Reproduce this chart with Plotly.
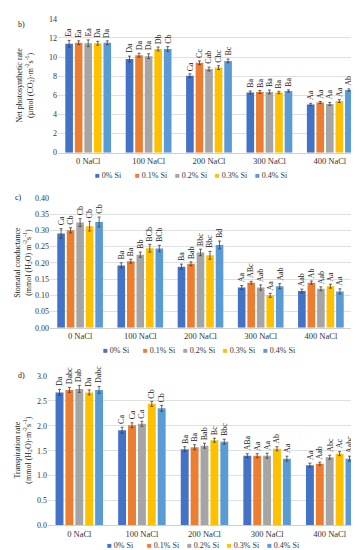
import plotly.graph_objects as go

categories = ["0 NaCl", "100 NaCl", "200 NaCl", "300 NaCl", "400 NaCl"]
series = ["0% Si", "0.1% Si", "0.2% Si", "0.3% Si", "0.4% Si"]
colors = ["#4472C4", "#ED7D31", "#A5A5A5", "#FFC000", "#5B9BD5"]

# b) Net photosynthetic rate
pn_0 = [11.40, 9.80, 8.05, 6.30, 5.05]
pn_1 = [11.50, 10.20, 9.40, 6.35, 5.25]
pn_2 = [11.45, 10.10, 8.75, 6.35, 5.10]
pn_3 = [11.45, 10.85, 8.90, 6.30, 5.40]
pn_4 = [11.50, 10.85, 9.60, 6.45, 6.55]
pn_err_0 = [0.35, 0.30, 0.20, 0.15, 0.12]
pn_err_1 = [0.20, 0.20, 0.20, 0.15, 0.10]
pn_err_2 = [0.35, 0.25, 0.20, 0.20, 0.15]
pn_err_3 = [0.20, 0.20, 0.20, 0.12, 0.15]
pn_err_4 = [0.20, 0.25, 0.20, 0.12, 0.12]
pn_lbl_0 = ["Ea", "Da", "Ca", "Ba", "Aa"]
pn_lbl_1 = ["Ea", "Da", "Cc", "Ba", "Aa"]
pn_lbl_2 = ["Ea", "Da", "Cab", "Ba", "Aa"]
pn_lbl_3 = ["Da", "Db", "Cbc", "Ba", "Aa"]
pn_lbl_4 = ["Da", "Cb", "Bc", "Ba", "Ab"]

# c) Stomatal conductance
gs_0 = [0.290, 0.192, 0.188, 0.124, 0.113]
gs_1 = [0.300, 0.205, 0.197, 0.139, 0.139]
gs_2 = [0.324, 0.225, 0.232, 0.124, 0.120]
gs_3 = [0.313, 0.245, 0.223, 0.100, 0.128]
gs_4 = [0.326, 0.244, 0.255, 0.128, 0.112]
gs_err_0 = [0.015, 0.008, 0.008, 0.006, 0.006]
gs_err_1 = [0.008, 0.006, 0.006, 0.004, 0.005]
gs_err_2 = [0.012, 0.008, 0.010, 0.008, 0.006]
gs_err_3 = [0.015, 0.012, 0.012, 0.006, 0.006]
gs_err_4 = [0.015, 0.010, 0.012, 0.008, 0.008]
gs_lbl_0 = ["Ca", "Ba", "Ba", "Aa", "Aab"]
gs_lbl_1 = ["Cb", "Ba", "Bab", "ABc", "Ab"]
gs_lbl_2 = ["Cb", "Bb", "Bbc", "Aab", "Aab"]
gs_lbl_3 = ["Cb", "BCb", "Bbc", "Aa", "Aa"]
gs_lbl_4 = ["Cb", "BCb", "Bd", "Aab", "Aa"]

# d) Transpiration rate
tr_0 = [2.67, 1.91, 1.53, 1.40, 1.21]
tr_1 = [2.72, 2.01, 1.57, 1.40, 1.24]
tr_2 = [2.74, 2.04, 1.60, 1.40, 1.37]
tr_3 = [2.67, 2.44, 1.71, 1.54, 1.44]
tr_4 = [2.72, 2.35, 1.68, 1.34, 1.34]
tr_err_0 = [0.06, 0.06, 0.05, 0.04, 0.04]
tr_err_1 = [0.05, 0.05, 0.05, 0.04, 0.03]
tr_err_2 = [0.07, 0.05, 0.05, 0.05, 0.04]
tr_err_3 = [0.05, 0.05, 0.04, 0.04, 0.04]
tr_err_4 = [0.07, 0.06, 0.05, 0.05, 0.05]
tr_lbl_0 = ["Da", "Ca", "Ba", "ABa", "Aa"]
tr_lbl_1 = ["Dabc", "Ca", "Ba", "Aa", "Aab"]
tr_lbl_2 = ["Dab", "Ca", "Bab", "Aa", "Abc"]
tr_lbl_3 = ["Da", "Cb", "Bc", "Ab", "Ac"]
tr_lbl_4 = ["Dabc", "Cb", "Bbc", "Aa", "Aabc"]

panels = [
    dict(vals=[pn_0, pn_1, pn_2, pn_3, pn_4],
         errs=[pn_err_0, pn_err_1, pn_err_2, pn_err_3, pn_err_4],
         lbls=[pn_lbl_0, pn_lbl_1, pn_lbl_2, pn_lbl_3, pn_lbl_4],
         rng=[0, 14], dtick=2, fmt="d",
         title="Net photosynthetic rate<br>(µmol (CO<sub>2</sub>)·m<sup>-2</sup>s<sup>-1</sup>)",
         tag="b)", ytop=7, ybot=143, xl=50, xr=352, titlex=17, tagpos=(13, 13),
         legy=166, legx=85),
    dict(vals=[gs_0, gs_1, gs_2, gs_3, gs_4],
         errs=[gs_err_0, gs_err_1, gs_err_2, gs_err_3, gs_err_4],
         lbls=[gs_lbl_0, gs_lbl_1, gs_lbl_2, gs_lbl_3, gs_lbl_4],
         rng=[0, 0.40], dtick=0.05, fmt=".2f",
         title="Stomatal conductance<br>(mmol (H<sub>2</sub>O) m<sup>-2</sup>s<sup>-1</sup>)",
         tag="c)", ytop=189, ybot=321, xl=42, xr=343, titlex=15, tagpos=(10, 189),
         legy=344, legx=93),
    dict(vals=[tr_0, tr_1, tr_2, tr_3, tr_4],
         errs=[tr_err_0, tr_err_1, tr_err_2, tr_err_3, tr_err_4],
         lbls=[tr_lbl_0, tr_lbl_1, tr_lbl_2, tr_lbl_3, tr_lbl_4],
         rng=[0, 3.0], dtick=0.5, fmt=".1f",
         title="Transpiration rate<br>(mmol (H<sub>2</sub>O)·m<sup>-2</sup>s<sup>-1</sup>)",
         tag="d)", ytop=370, ybot=522, xl=40, xr=353, titlex=15, tagpos=(13, 370),
         legy=542, legx=97),
]

W, H = 359, 550
FONT = "Liberation Serif"
BARGAP = 0.21
nS = len(series)
slot = (1 - BARGAP) / nS

fig = go.Figure()
annotations = []
layout = {}

for p, pan in enumerate(panels):
    xa = "x" if p == 0 else f"x{p+1}"
    ya = "y" if p == 0 else f"y{p+1}"
    for k in range(nS):
        fig.add_trace(go.Bar(
            x=categories, y=pan["vals"][k], name=series[k],
            marker=dict(color=colors[k], line=dict(width=0)),
            error_y=dict(type="data", array=pan["errs"][k], color="#404040",
                         thickness=0.8, width=1.5),
            xaxis=xa, yaxis=ya, showlegend=False,
        ))
        for i in range(len(categories)):
            off = -(1 - BARGAP) / 2 + slot * (k + 0.5)
            annotations.append(dict(
                x=i + off, y=pan["vals"][k][i] + pan["errs"][k][i],
                xref=xa, yref=ya, text=pan["lbls"][k][i], textangle=-90,
                showarrow=False, xanchor="center", yanchor="bottom", yshift=1,
                font=dict(family=FONT, size=8, color="#222"),
            ))
    dom_y = [1 - pan["ybot"] / H, 1 - pan["ytop"] / H]
    dom_x = [pan["xl"] / W, pan["xr"] / W]
    kx = "xaxis" if p == 0 else f"xaxis{p+1}"
    ky = "yaxis" if p == 0 else f"yaxis{p+1}"
    layout[kx] = dict(domain=dom_x, anchor=ya, type="category",
                      showline=True, linecolor="#D0D0D0", linewidth=1,
                      ticks="", tickfont=dict(family=FONT, size=8.5, color="#333"),
                      showgrid=False)
    layout[ky] = dict(domain=dom_y, anchor=xa, range=pan["rng"], dtick=pan["dtick"],
                      tickformat=pan["fmt"], showgrid=True, gridcolor="#E0E0E0",
                      gridwidth=1, zeroline=False, showline=False, ticks="",
                      tickfont=dict(family=FONT, size=8, color="#333"))
    annotations.append(dict(
        x=pan["titlex"] / W, y=1 - (pan["ytop"] + pan["ybot"]) / 2 / H,
        xref="paper", yref="paper", text=pan["title"], textangle=-90,
        showarrow=False, xanchor="center", yanchor="middle",
        font=dict(family=FONT, size=8, color="#222"),
    ))
    annotations.append(dict(
        x=pan["tagpos"][0] / W, y=1 - pan["tagpos"][1] / H, xref="paper", yref="paper",
        text=pan["tag"], showarrow=False, xanchor="center", yanchor="middle",
        font=dict(family=FONT, size=8, color="#222"),
    ))
    # legend row
    for k in range(nS):
        annotations.append(dict(
            x=(pan["legx"] + 40 * k) / W, y=1 - pan["legy"] / H,
            xref="paper", yref="paper",
            text=f'<span style="color:{colors[k]}">■</span> {series[k]}',
            showarrow=False, xanchor="left", yanchor="middle",
            font=dict(family=FONT, size=8, color="#333"),
        ))

fig.update_layout(
    width=W, height=H, margin=dict(l=0, r=0, t=0, b=0),
    paper_bgcolor="white", plot_bgcolor="white",
    barmode="group", bargap=BARGAP, bargroupgap=0.2,
    annotations=annotations, showlegend=False,
    **layout,
)
fig.write_html("out.html")
